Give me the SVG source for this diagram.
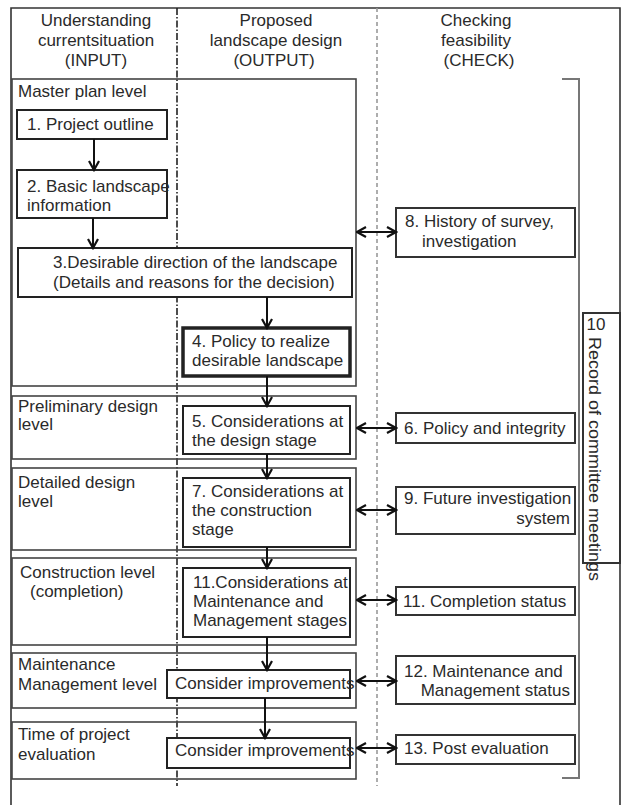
<svg xmlns="http://www.w3.org/2000/svg" width="622" height="805" viewBox="0 0 622 805">
<style>
text{font-family:"Liberation Sans",Arial,sans-serif;font-size:17px;fill:#2a2a2a}
.hd{text-anchor:middle}
.lvl{fill:none;stroke:#444;stroke-width:1.6}
.node{fill:#fff;stroke:#222;stroke-width:2}
.thick{stroke-width:3.5}
.chk{fill:#fff;stroke:#333;stroke-width:2}
.arr{fill:none;stroke:#111;stroke-width:2;marker-end:url(#ah)}
.darr{fill:none;stroke:#111;stroke-width:2;marker-end:url(#ah);marker-start:url(#ah)}
.end{text-anchor:end}
</style>
<defs>
<marker id="ah" viewBox="0 0 12 12" refX="10.5" refY="6" markerWidth="12" markerHeight="12" markerUnits="userSpaceOnUse" orient="auto-start-reverse">
<path d="M1.5,1 L10.5,6 L1.5,11" fill="none" stroke="#111" stroke-width="2.2"/>
</marker>
</defs>
<rect width="622" height="805" fill="#fff"/>
<g id="frame">
<path d="M11,805 V8 H620 V805" fill="none" stroke="#333" stroke-width="1.6"/>
<line x1="177" y1="8" x2="177" y2="786" stroke="#222" stroke-width="1.6" stroke-dasharray="7 2 1.5 2"/>
<line x1="377" y1="8" x2="377" y2="786" stroke="#999" stroke-width="1.6" stroke-dasharray="4 3"/>
<path d="M562,79 H579 V778 H562" fill="none" stroke="#777" stroke-width="2"/>
</g>
<g id="headers">
<text class="hd" x="96" y="26">Understanding</text>
<text class="hd" x="96" y="46">currentsituation</text>
<text class="hd" x="96" y="66">(INPUT)</text>
<text class="hd" x="276" y="26">Proposed</text>
<text class="hd" x="276" y="46">landscape design</text>
<text class="hd" x="274" y="66">(OUTPUT)</text>
<text class="hd" x="476" y="26">Checking</text>
<text class="hd" x="476" y="46">feasibility</text>
<text class="hd" x="479" y="66">(CHECK)</text>
</g>
<g id="level-master"><rect class="lvl" x="12" y="79" width="344" height="307"/><text x="18" y="97">Master plan level</text></g>
<g id="level-preliminary"><rect class="lvl" x="12" y="396" width="344" height="63"/><text x="18" y="412">Preliminary design</text><text x="18" y="430">level</text></g>
<g id="level-detailed"><rect class="lvl" x="12" y="468" width="344" height="82"/><text x="18" y="488">Detailed design</text><text x="18" y="507">level</text></g>
<g id="level-construction"><rect class="lvl" x="12" y="558" width="344" height="87"/><text x="20" y="578">Construction level</text><text x="30" y="597">(completion)</text></g>
<g id="level-maintenance"><rect class="lvl" x="12" y="653" width="344" height="55"/><text x="18" y="670">Maintenance</text><text x="18" y="690">Management level</text></g>
<g id="level-evaluation"><rect class="lvl" x="12" y="722" width="344" height="57"/><text x="18" y="740">Time of project</text><text x="18" y="760">evaluation</text></g>
<g id="n1"><rect class="node" x="17" y="110" width="150" height="29"/><text x="27" y="130">1. Project outline</text></g>
<g id="n2"><rect class="node" x="17" y="170" width="150" height="48"/><text x="27" y="192">2. Basic landscape</text><text x="27" y="211">information</text></g>
<g id="n3"><rect class="node" x="18" y="248" width="334" height="49"/><text x="53" y="268">3.Desirable direction of the landscape</text><text x="53" y="288">(Details and reasons for the decision)</text></g>
<g id="n4"><rect class="node thick" x="183" y="328" width="167" height="48"/><text x="192" y="347">4. Policy to realize</text><text x="192" y="366">desirable landscape</text></g>
<g id="n5"><rect class="node" x="183" y="406" width="167" height="48"/><text x="192" y="427">5. Considerations at</text><text x="192" y="446">the design stage</text></g>
<g id="n7"><rect class="node" x="183" y="478" width="167" height="69"/><text x="192" y="497">7. Considerations at</text><text x="192" y="516">the construction</text><text x="192" y="535">stage</text></g>
<g id="n11"><rect class="node" x="183" y="568" width="167" height="69"/><text x="193" y="588">11.Considerations at</text><text x="193" y="607">Maintenance and</text><text x="193" y="626">Management stages</text></g>
<g id="ci1"><rect class="node" x="167" y="670" width="183" height="28"/><text x="175" y="689">Consider improvements</text></g>
<g id="ci2"><rect class="node" x="167" y="738" width="183" height="30"/><text x="175" y="756">Consider improvements</text></g>
<g id="n8"><rect class="chk" x="396" y="208" width="179" height="49"/><text x="405" y="227">8. History of survey,</text><text x="422" y="247">investigation</text></g>
<g id="n6"><rect class="chk" x="396" y="413" width="179" height="30"/><text x="404" y="434">6. Policy and integrity</text></g>
<g id="n9"><rect class="chk" x="396" y="487" width="179" height="47"/><text x="404" y="504">9. Future investigation</text><text class="end" x="570" y="524">system</text></g>
<g id="n11s"><rect class="chk" x="396" y="587" width="179" height="28"/><text x="403" y="607">11. Completion status</text></g>
<g id="n12"><rect class="chk" x="396" y="656" width="179" height="48"/><text x="404" y="677">12. Maintenance and</text><text class="end" x="570" y="696">Management status</text></g>
<g id="n13"><rect class="chk" x="396" y="735" width="179" height="29"/><text x="404" y="754">13. Post evaluation</text></g>
<g id="n10"><rect x="583" y="313" width="37" height="250" fill="#fff" stroke="#333" stroke-width="2"/><text x="596" y="330" text-anchor="middle" font-size="15">10</text><text transform="translate(589,337) rotate(90)" font-size="18" textLength="244" lengthAdjust="spacingAndGlyphs">Record of committee meetings</text></g>
<g id="connectors">
<line class="arr" x1="94" y1="139" x2="94" y2="170"/>
<line class="arr" x1="93" y1="218" x2="93" y2="248"/>
<line class="arr" x1="267" y1="297" x2="267" y2="328"/>
<line class="arr" x1="267" y1="376" x2="267" y2="406"/>
<line class="arr" x1="267" y1="454" x2="267" y2="478"/>
<line class="arr" x1="267" y1="547" x2="267" y2="568"/>
<line class="arr" x1="267" y1="637" x2="267" y2="670"/>
<line class="arr" x1="265" y1="698" x2="265" y2="738"/>
<line class="darr" x1="357" y1="232" x2="396" y2="232"/>
<line class="darr" x1="357" y1="428" x2="396" y2="428"/>
<line class="darr" x1="357" y1="510" x2="396" y2="510"/>
<line class="darr" x1="357" y1="600" x2="396" y2="600"/>
<line class="darr" x1="357" y1="681" x2="396" y2="681"/>
<line class="darr" x1="357" y1="748" x2="396" y2="748"/>
</g>
</svg>
